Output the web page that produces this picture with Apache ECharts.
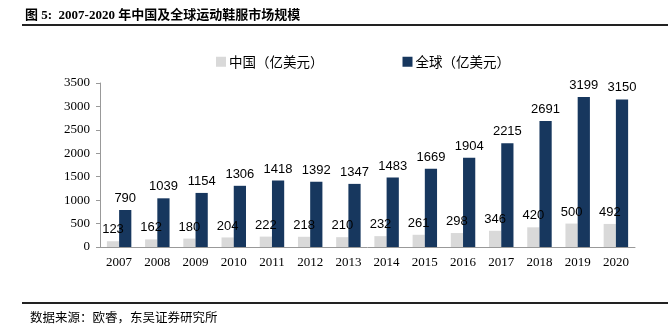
<!DOCTYPE html>
<html><head><meta charset="utf-8">
<script src="https://cdn.jsdelivr.net/npm/echarts@6/dist/echarts.min.js"></script>
<style>html,body{margin:0;padding:0;background:#fff}#c{width:672px;height:327px}</style>
</head><body><div id="c"></div>
<script>
const years = ['2007','2008','2009','2010','2011','2012','2013','2014','2015','2016','2017','2018','2019','2020'];
const china = [123,162,180,204,222,218,210,232,261,298,346,420,500,492];
const globalV = [790,1039,1154,1306,1418,1392,1347,1483,1669,1904,2215,2691,3199,3150];
const yTicks = [0,500,1000,1500,2000,2500,3000,3500];
const chart = echarts.init(document.getElementById('c'));
const labelStyle = {show:true, position:'top', distance:5, color:'#000', fontSize:13, fontFamily:'Liberation Sans, Arial, sans-serif'};
chart.setOption({
  animation:false,
  title:{text:'图 5:  2007-2020 年中国及全球运动鞋服市场规模', left:20, top:4,
    textStyle:{fontSize:13, fontWeight:'bold', color:'#000', fontFamily:'Liberation Serif, Noto Sans CJK SC, serif'}},
  graphic:[
    {type:'rect', shape:{x:22,y:24,width:646,height:2}, style:{fill:'#222'}},
    {type:'rect', shape:{x:22,y:302,width:646,height:2}, style:{fill:'#222'}},
    {type:'text', left:30, top:311, style:{text:'数据来源：欧睿，东吴证券研究所', fontSize:12.5, fill:'#000', fontFamily:'Noto Sans CJK SC, sans-serif'}}
  ],
  legend:{left:211, top:50, itemWidth:10, itemHeight:10, itemGap:79, icon:'rect',
    textStyle:{fontSize:13.5, color:'#000', fontFamily:'Noto Sans CJK SC, sans-serif', padding:[0,0,0,-2]},
    data:['中国（亿美元）','全球（亿美元）']},
  grid:{left:100, right:37, top:83, bottom:80},
  xAxis:{type:'category', data:years, boundaryGap:true,
    axisLine:{lineStyle:{color:'#999'}},
    axisTick:{inside:true, length:4, lineStyle:{color:'#999'}},
    axisLabel:{color:'#000', fontSize:13, margin:9, fontFamily:'Liberation Serif, Times New Roman, serif', interval:0}},
  yAxis:{type:'value', min:0, max:3500, interval:500,
    axisLine:{show:true, lineStyle:{color:'#999'}},
    axisTick:{show:true, length:4, lineStyle:{color:'#999'}},
    splitLine:{show:false},
    axisLabel:{color:'#000', fontSize:13, margin:10, fontFamily:'Liberation Serif, Times New Roman, serif',
      formatter: v => String(v)}},
  series:[
    {name:'中国（亿美元）', type:'bar', data:china, barWidth:'32%', barGap:'0%', itemStyle:{color:'#d9d9d9'}, label:labelStyle},
    {name:'全球（亿美元）', type:'bar', data:globalV, barWidth:'32%', barGap:'0%', itemStyle:{color:'#17375e'}, label:labelStyle}
  ]
});
</script></body></html>
